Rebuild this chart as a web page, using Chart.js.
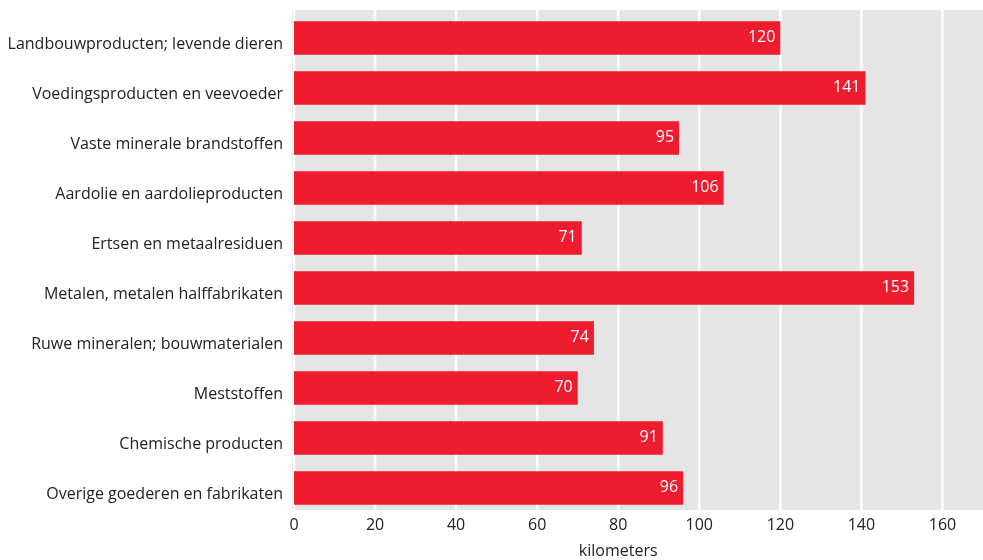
<!DOCTYPE html>
<html>
<head>
<meta charset="utf-8">
<script src="https://cdn.jsdelivr.net/npm/chart.js@4/dist/chart.umd.min.js"></script>
<style>
html,body{margin:0;padding:0;background:#fff;}
#wrap{width:983px;height:560px;position:relative;}
</style>
</head>
<body>
<div id="wrap"><canvas id="c"></canvas></div>
<script>
const categories = [
  "Landbouwproducten; levende dieren",
  "Voedingsproducten en veevoeder",
  "Vaste minerale brandstoffen",
  "Aardolie en aardolieproducten",
  "Ertsen en metaalresiduen",
  "Metalen, metalen halffabrikaten",
  "Ruwe mineralen; bouwmaterialen",
  "Meststoffen",
  "Chemische producten",
  "Overige goederen en fabrikaten"
];
const distances = [120, 141, 95, 106, 71, 153, 74, 70, 91, 96];
const xTicks = [0, 20, 40, 60, 80, 100, 120, 140, 160];
const axisTitle = "kilometers";

const FONT = "'Open Sans', 'Noto Sans', sans-serif";
const TEXT = "#222222";

const bgPlugin = {
  id: 'bg',
  beforeDraw(chart) {
    const {ctx, chartArea} = chart;
    const x = chart.scales.x;
    const top = chartArea.top - 3, bottom = chartArea.bottom - 3;
    ctx.save();
    ctx.fillStyle = '#e5e5e5';
    ctx.fillRect(chartArea.left - 2, top, chartArea.right - chartArea.left + 2, bottom - top);
    ctx.strokeStyle = '#ffffff';
    ctx.lineWidth = 2.5;
    xTicks.forEach(v => {
      const px = x.getPixelForValue(v);
      ctx.beginPath();
      ctx.moveTo(px, top);
      ctx.lineTo(px, bottom);
      ctx.stroke();
    });
    ctx.restore();
  },
  afterDatasetsDraw(chart) {
    const {ctx} = chart;
    const meta = chart.getDatasetMeta(0);
    ctx.save();
    ctx.fillStyle = '#ffffff';
    ctx.font = "16px " + FONT;
    ctx.textAlign = 'right';
    ctx.textBaseline = 'middle';
    meta.data.forEach((bar, i) => {
      ctx.fillText(String(distances[i]), bar.x - 5, bar.y - 1);
    });
    const x = chart.scales.x;
    ctx.fillStyle = TEXT;
    ctx.font = "16px " + FONT;
    ctx.textAlign = 'center';
    ctx.fillText(axisTitle, x.getPixelForValue(80), chart.chartArea.bottom + 38);
    ctx.restore();
  }
};

new Chart(document.getElementById('c'), {
  type: 'bar',
  data: {
    labels: categories,
    datasets: [{
      data: distances,
      backgroundColor: '#ee1c2e',
      borderWidth: 0,
      categoryPercentage: 0.667,
      barPercentage: 1.0
    }]
  },
  options: {
    indexAxis: 'y',
    responsive: true,
    maintainAspectRatio: false,
    animation: false,
    layout: { padding: { top: 13, right: 0, left: 0, bottom: 0 } },
    plugins: { legend: { display: false }, tooltip: { enabled: false } },
    scales: {
      x: {
        min: 0, max: 170,
        grid: { display: false, drawTicks: false },
        border: { display: false },
        afterBuildTicks(scale) { scale.ticks = xTicks.map(v => ({value: v})); },
        afterFit(scale) { scale.height = 47; scale.paddingLeft = 0; scale.paddingRight = 0; },
        ticks: { padding: 3, color: TEXT, font: { size: 16, family: FONT } }
      },
      y: {
        grid: { display: false, drawTicks: false },
        border: { display: false },
        afterFit(scale) { scale.width = 294; scale.paddingTop = 0; scale.paddingBottom = 0; },
        ticks: { padding: 11, labelOffset: 6, color: TEXT, font: { size: 16, family: FONT } }
      }
    }
  },
  plugins: [bgPlugin]
});
</script>
</body>
</html>
